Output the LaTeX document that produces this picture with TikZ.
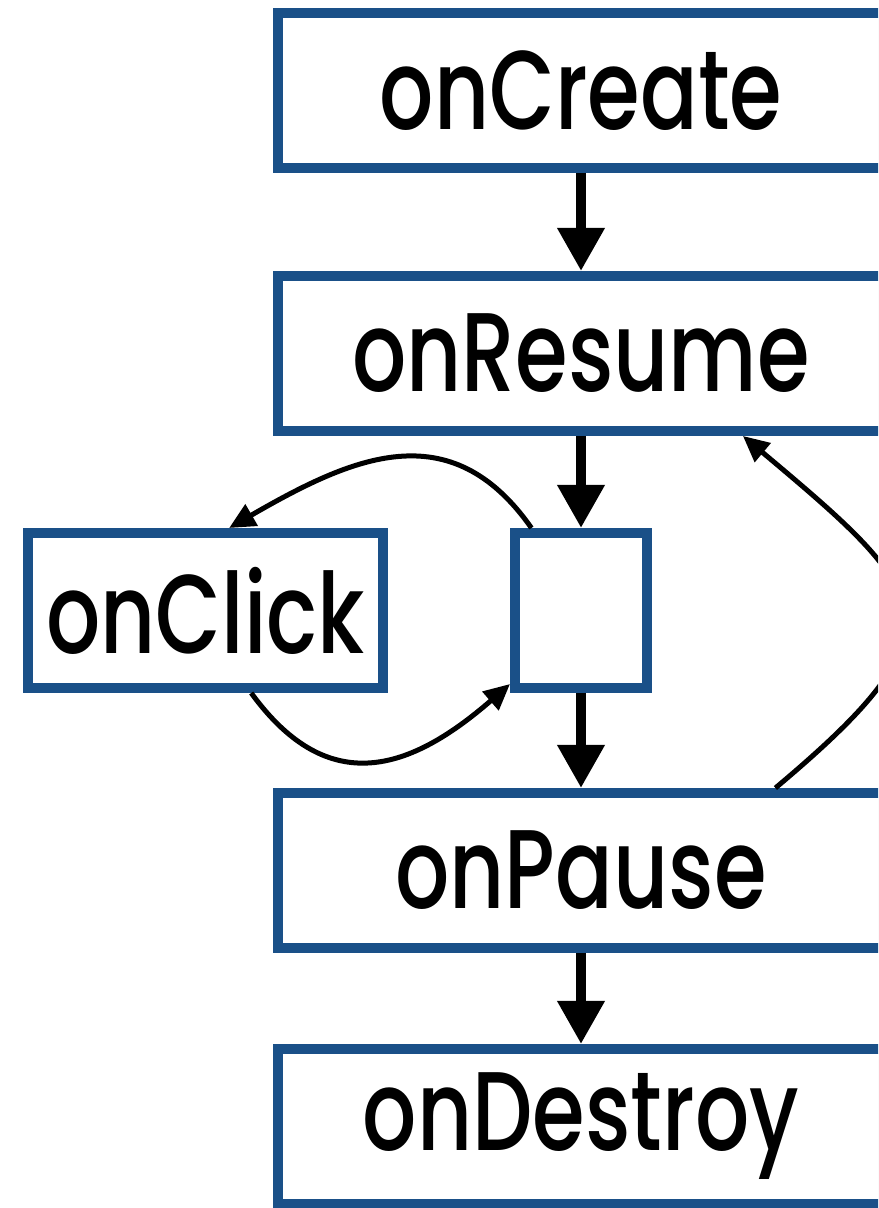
\documentclass[tikz,border=0pt]{standalone}
\usepackage{fontspec}
\setmainfont{Poppins}[UprightFont=* Medium, FakeStretch=0.76]
\usetikzlibrary{positioning,arrows.meta,shadows}

\definecolor{boxblue}{RGB}{26,80,136}

\tikzset{
	stage/.style={draw=boxblue, line width=5pt, fill=white,
		minimum width=303pt, minimum height=77.5pt, inner sep=0pt,
		font=\fontsize{56}{60}\selectfont,
		drop shadow={shadow xshift=-0.5pt, shadow yshift=-2pt, opacity=.25}},
	flow/.style={-{Triangle[length=21.5pt,width=22.5pt]}, line width=5pt},
	jump/.style={-{Triangle[length=13pt,width=12pt]}, line width=2.5pt},
}

\begin{document}
\begin{tikzpicture}[x=0.5pt,y=0.5pt]
	\useasboundingbox (0,0) rectangle (878,1208);
	\clip (0,0) rectangle (878,1208);
	% main column of callbacks
	\node[stage] (create) at (581,1117.5) {onCreate};
	\node[stage,below=49pt of create] (resume) {onResume};
	\node[stage,minimum width=66pt,below=46pt of resume] (loop) {};
	\node[stage,minimum width=177.5pt,left=61pt of loop] (click) {onClick};
	\node[stage,below=47.5pt of loop] (pause) {onPause};
	\node[stage,below=45.5pt of pause] (destroy) {onDestroy};
	% straight steps
	\draw[flow] (create) -- (resume);
	\draw[flow] (resume) -- (loop);
	\draw[flow] (loop) -- (pause);
	\draw[flow] (pause) -- (destroy);
	% event loop and the way back
	\draw[jump] (loop.121) to[out=125,in=30,looseness=1.2] (click.74);
	\draw[jump] (click.-61) to[out=-54,in=221,looseness=1.3] (loop.226);
	\draw[jump] (pause.23) to[out=40,in=-40,looseness=1.8] (resume.-27);
\end{tikzpicture}
\end{document}
